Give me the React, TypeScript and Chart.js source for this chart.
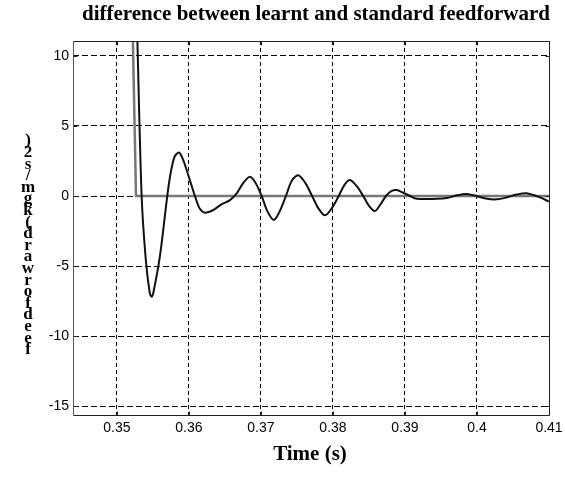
import React, { useEffect, useRef } from "react";
import { Chart, registerables } from "chart.js";

Chart.register(...registerables);

const titleText = "difference between learnt and standard feedforward";
const xTitleText = "Time (s)";
const yTitleChars = [")", "2", "s", "/", "m", "g", "k", "(", "d", "r", "a", "w", "r", "o", "f", "d", "e", "e", "f"];

const xTicks = [0.35, 0.36, 0.37, 0.38, 0.39, 0.4, 0.41];
const yTicks = [-15, -10, -5, 0, 5, 10];
const xMin = 0.3439;
const xMax = 0.41;
const yMin = -15.64;
const yMax = 11.07;

const learntTime = [
  0.35282, 0.35343, 0.3540, 0.35455, 0.35482, 0.3551, 0.35597, 0.35699, 0.35746, 0.3580,
  0.35861, 0.3591, 0.35968, 0.36083, 0.3615, 0.36222, 0.36338, 0.3645, 0.3657, 0.36663,
  0.3675, 0.36847, 0.3693, 0.3701, 0.3709, 0.3718, 0.3726, 0.37347, 0.3743, 0.37518,
  0.3762, 0.3771, 0.3780, 0.3789, 0.3798, 0.3808, 0.3816, 0.38236, 0.3833, 0.3842,
  0.3850, 0.38583, 0.3866, 0.38736, 0.3881, 0.38885, 0.3897, 0.39069, 0.39162, 0.3944,
  0.39579, 0.3972, 0.39857, 0.39996, 0.4014, 0.40274, 0.40413, 0.4055, 0.4069, 0.40875,
  0.41,
];
const learntDiff = [
  11.5, 0, -4.5, -6.9, -7.2, -6.8, -4.3, 0, 1.64, 2.8,
  3.1, 2.7, 1.86, 0, -0.9, -1.19, -1.0, -0.6, -0.29, 0.19,
  0.9, 1.38, 0.9, 0, -1.1, -1.71, -1.1, 0, 1.1, 1.48,
  0.9, 0, -0.9, -1.38, -0.9, 0, 0.8, 1.14, 0.7, 0,
  -0.7, -1.07, -0.6, 0, 0.35, 0.43, 0.25, 0, -0.2, -0.2,
  -0.15, 0.05, 0.15, 0, -0.2, -0.24, -0.1, 0.1, 0.19, -0.1,
  -0.4,
];

const standardTime = [0.3522, 0.35265, 0.41];
const standardDiff = [11.5, 0, 0];

const overlay = {
  id: "overlay",
  afterDatasetsDraw(chart: any) {
    const { ctx, chartArea, scales } = chart;
    const L = Math.round(chartArea.left) + 0.5;
    const T = Math.round(chartArea.top) + 0.5;
    const R = Math.round(chartArea.right) + 0.5;
    const B = Math.round(chartArea.bottom) + 0.5;
    ctx.save();
    ctx.setLineDash([]);
    ctx.lineWidth = 1;
    ctx.strokeStyle = "#222";
    ctx.beginPath();
    ctx.moveTo(L, T);
    ctx.lineTo(R, T);
    ctx.lineTo(R, B);
    ctx.lineTo(L, B);
    ctx.stroke();
    ctx.strokeStyle = "#555";
    ctx.beginPath();
    ctx.moveTo(L, T);
    ctx.lineTo(L, B);
    ctx.stroke();
    ctx.strokeStyle = "#222";
    ctx.beginPath();
    yTicks.forEach((v) => {
      const y = Math.round(scales.y.getPixelForValue(v)) + 0.5;
      ctx.moveTo(L, y);
      ctx.lineTo(L + 4, y);
      ctx.moveTo(R, y);
      ctx.lineTo(R - 4, y);
    });
    xTicks.forEach((v) => {
      const x = Math.round(scales.x.getPixelForValue(v)) + 0.5;
      ctx.moveTo(x, B);
      ctx.lineTo(x, B - 4);
      ctx.moveTo(x, T);
      ctx.lineTo(x, T + 4);
    });
    ctx.stroke();
    ctx.fillStyle = "#000";
    ctx.textAlign = "center";
    ctx.textBaseline = "middle";
    ctx.font = "bold 21px 'Liberation Serif', 'Times New Roman', serif";
    ctx.fillText(titleText, 316, 15);
    ctx.fillText(xTitleText, 310, 455);
    ctx.font = "bold 17px 'Liberation Serif', 'Times New Roman', serif";
    const top = 141;
    const step = 11.6;
    yTitleChars.forEach((c, i) => {
      ctx.fillText(c, 28, top + i * step);
    });
    ctx.restore();
  },
};

export default function App() {
  const ref = useRef<HTMLCanvasElement>(null);
  useEffect(() => {
    document.body.style.margin = "0";
    const canvas = ref.current;
    if (!canvas) return;
    const chart = new Chart(canvas, {
      type: "line",
      data: {
        datasets: [
          {
            label: "learnt",
            data: learntTime.map((t, i) => ({ x: t, y: learntDiff[i] })),
            borderColor: "#111",
            borderWidth: 2,
            pointRadius: 0,
            tension: 0.3,
            fill: false,
          },
          {
            label: "standard",
            data: standardTime.map((t, i) => ({ x: t, y: standardDiff[i] })),
            borderColor: "#777",
            borderWidth: 2.5,
            pointRadius: 0,
            tension: 0,
            fill: false,
          },
        ],
      },
      options: {
        responsive: false,
        animation: false,
        events: [],
        layout: { padding: { top: 41, right: 16, left: 0, bottom: 0 } },
        plugins: {
          legend: { display: false },
          tooltip: { enabled: false },
          title: { display: false },
        },
        scales: {
          x: {
            type: "linear",
            min: xMin,
            max: xMax,
            afterBuildTicks: (scale: any) => {
              scale.ticks = xTicks.map((v) => ({ value: v }));
            },
            afterFit: (scale: any) => {
              scale.height = 71;
              scale.paddingLeft = 0;
              scale.paddingRight = 0;
            },
            grid: { color: "#000", lineWidth: 1, drawTicks: false },
            border: { display: false, dash: [4, 3] },
            ticks: {
              autoSkip: false,
              maxRotation: 0,
              padding: 5,
              color: "#000",
              font: { family: "'Liberation Sans', Arial, sans-serif", size: 14 },
              callback: (v: any) => String(v),
            },
          },
          y: {
            type: "linear",
            min: yMin,
            max: yMax,
            afterBuildTicks: (scale: any) => {
              scale.ticks = yTicks.map((v) => ({ value: v }));
            },
            afterFit: (scale: any) => {
              scale.width = 73;
              scale.paddingTop = 0;
              scale.paddingBottom = 0;
            },
            grid: { color: "#000", lineWidth: 1, drawTicks: false },
            border: { display: false, dash: [6, 3] },
            ticks: {
              autoSkip: false,
              padding: 4,
              color: "#000",
              font: { family: "'Liberation Sans', Arial, sans-serif", size: 14 },
              callback: (v: any) => String(v),
            },
          },
        },
      },
      plugins: [overlay],
    } as any);
    return () => chart.destroy();
  }, []);
  return <canvas ref={ref} width={565} height={486} style={{ display: "block" }} />;
}
